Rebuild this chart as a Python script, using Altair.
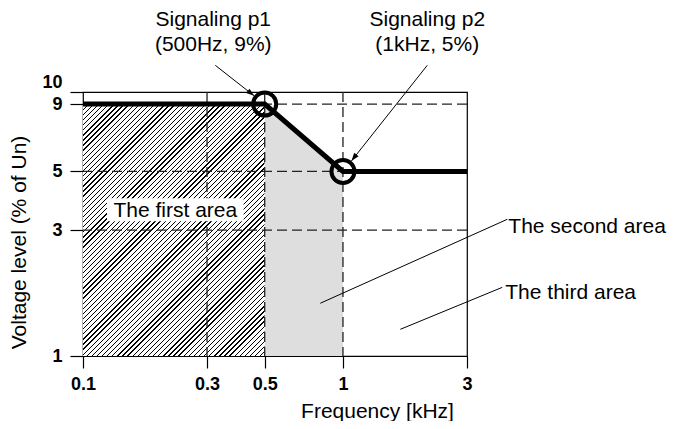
import altair as alt
import pandas as pd

# ---- data ----
x_ticks = [0.1, 0.3, 0.5, 1, 3]
y_ticks = [1, 3, 5, 9, 10]
grid_x = [0.3, 0.5, 1]
grid_y = [3, 5, 9]

line_x = [0.1, 0.5, 1, 3]
line_y = [9, 9, 5, 5]

pts_x = [0.5, 1]
pts_y = [9, 5]

hatch_x = [0.1, 0.5]
hatch_y = [1, 9]

stip_x = [0.5, 1]
stip_y = [9, 5]
stip_y0 = [1, 1]

box_x = [0.1237, 0.4148]
box_y = [3.956, 3.237]
first_lbl = ["The first area"]
first_x = [0.2265]
first_y = [3.361]

ctr_text = ["Signaling p1", "(500Hz, 9%)", "Signaling p2", "(1kHz, 5%)"]
ctr_x = [0.317, 0.317, 2.11, 2.11]
ctr_y = [17.81, 14.27, 17.81, 14.27]

left_text = ["The second area", "The third area"]
left_x = [4.325, 4.211]
left_y = [2.916, 1.640]

lead_x = [0.3228, 2.110, 0.818, 1.662]
lead_y = [12.62, 12.62, 1.584, 1.262]
lead_x2 = [0.4552, 1.078, 4.287, 4.101]
lead_y2 = [9.674, 5.483, 3.295, 1.820]

head_x = [0.4552, 1.078]
head_y = [9.674, 5.483]
head_ang = [128.2, 217.9]

# ---- scales ----
W, H = 384, 264
xs = alt.Scale(type="log", domain=[0.1, 3], nice=False)
ys = alt.Scale(type="log", domain=[1, 10], nice=False)

FONT = "Liberation Sans"

x_axis = alt.Axis(values=x_ticks, format="~g", grid=False, domain=False,
                  tickSize=12, tickColor="black", tickWidth=1.2,
                  labelFont=FONT, labelFontSize=18, labelFontWeight="bold",
                  labelColor="black", labelPadding=7,
                  title="Frequency [kHz]", titleFont=FONT, titleFontSize=21,
                  titleFontWeight="normal", titleColor="black",
                  titleX=294, titleY=61, titleAlign="center",
                  titleBaseline="alphabetic", labelFlush=False, labelOverlap=False)
y_axis = alt.Axis(values=y_ticks, format="~g", grid=False, domain=False,
                  tickSize=13, tickColor="black", tickWidth=1.2,
                  labelFont=FONT, labelFontSize=18, labelFontWeight="bold",
                  labelColor="black", labelPadding=8,
                  labelOffset={"condition": {"test": "datum.value == 10", "value": -10}, "value": 0},
                  title="Voltage level (% of Un)", titleFont=FONT, titleFontSize=21,
                  titleFontWeight="normal", titleColor="black",
                  titleX=-58, titleY=150, titleAngle=270, titleAlign="center",
                  titleBaseline="alphabetic", labelFlush=False, labelOverlap=False)

X = lambda f="x:Q": alt.X(f, scale=xs, axis=x_axis)
Y = lambda f="y:Q": alt.Y(f, scale=ys, axis=y_axis)

# hatch pattern via a striped linear gradient (45 degree "/" lines)
w_px, h_px = 181.7, 251.9
k = (w_px + h_px) * h_px / (w_px ** 2 + h_px ** 2)
N = 85
duty = 0.26
stops = []
for i in range(N):
    a = i / N
    b = (i + duty) / N
    c = (i + 1) / N
    stops += [{"offset": a, "color": "#000"}, {"offset": b, "color": "#000"},
              {"offset": b, "color": "#fff"}, {"offset": c, "color": "#fff"}]
hatch_fill = {"gradient": "linear", "x1": 0, "y1": 0, "x2": k * w_px / h_px, "y2": k, "stops": stops}

hatch = alt.Chart(pd.DataFrame({"x": [hatch_x[0]], "x2": [hatch_x[1]],
                                "y": [hatch_y[0]], "y2": [hatch_y[1]]})).mark_rect(
    fill=hatch_fill, strokeWidth=0).encode(x=X(), x2="x2:Q", y=Y(), y2="y2:Q")

stipple = alt.Chart(pd.DataFrame({"x": stip_x, "y": stip_y, "y0": stip_y0})).mark_area(
    color="#dedede", opacity=1).encode(x=X(), y=Y(), y2="y0:Q")

dash = [10, 5]
vgrid = alt.Chart(pd.DataFrame({"x": grid_x})).mark_rule(
    color="#222", strokeWidth=1.3, strokeDash=dash).encode(x=X())
hgrid = alt.Chart(pd.DataFrame({"y": grid_y})).mark_rule(
    color="#222", strokeWidth=1.3, strokeDash=dash).encode(y=Y())

box = alt.Chart(pd.DataFrame({"x": [box_x[0]], "x2": [box_x[1]],
                              "y": [box_y[0]], "y2": [box_y[1]]})).mark_rect(
    fill="white", strokeWidth=0).encode(x=X(), x2="x2:Q", y=Y(), y2="y2:Q")

first_text = alt.Chart(pd.DataFrame({"t": first_lbl, "x": first_x, "y": first_y})).mark_text(
    font=FONT, fontSize=21, align="center", baseline="alphabetic", color="black").encode(
    x=X(), y=Y(), text="t:N")

main_line = alt.Chart(pd.DataFrame({"x": line_x, "y": line_y})).mark_line(
    color="black", strokeWidth=5, strokeCap="butt").encode(x=X(), y=Y())

circles = alt.Chart(pd.DataFrame({"x": pts_x, "y": pts_y})).mark_point(
    shape="circle", filled=False, size=529, strokeWidth=4, color="black", opacity=1).encode(
    x=X(), y=Y())

leaders = alt.Chart(pd.DataFrame({"x": lead_x, "y": lead_y, "x2": lead_x2, "y2": lead_y2})).mark_rule(
    color="black", strokeWidth=1).encode(x=X(), x2="x2:Q", y=Y(), y2="y2:Q")

heads = alt.Chart(pd.DataFrame({"x": head_x, "y": head_y, "a": head_ang})).mark_point(
    shape="M0,0L-0.35,1L0.35,1Z", filled=True, size=256, color="black", opacity=1).encode(
    x=X(), y=Y(), angle=alt.Angle("a:Q", scale=None))

ctr_labels = alt.Chart(pd.DataFrame({"t": ctr_text, "x": ctr_x, "y": ctr_y})).mark_text(
    font=FONT, fontSize=21, align="center", baseline="alphabetic", color="black").encode(
    x=X(), y=Y(), text="t:N")

left_labels = alt.Chart(pd.DataFrame({"t": left_text, "x": left_x, "y": left_y})).mark_text(
    font=FONT, fontSize=21, align="left", baseline="alphabetic", color="black").encode(
    x=X(), y=Y(), text="t:N")

chart = alt.layer(
    hatch, stipple, vgrid, hgrid, box, first_text, main_line, circles,
    leaders, heads, ctr_labels, left_labels
).properties(
    width=W, height=H,
    autosize=alt.AutoSizeParams(type="none"),
    padding={"left": 75, "top": 84, "right": 204, "bottom": 65},
    background="white",
).configure_view(
    stroke="black", strokeWidth=1.2
)

chart.save("out.html", embed_options={"renderer": "svg", "actions": False})
